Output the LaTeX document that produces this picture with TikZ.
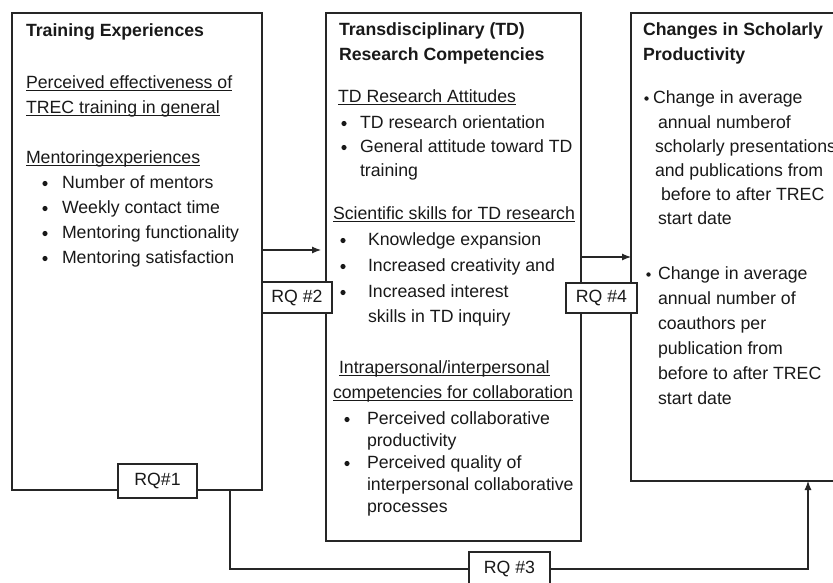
\documentclass[tikz,border=0pt]{standalone}
\usepackage{fontspec}
\setmainfont{Liberation Sans}
\usetikzlibrary{arrows.meta}
\newcommand\ulx[1]{\setbox0\hbox{#1}\rlap{\rule[-3.4pt]{\wd0}{1.2pt}}\box0}
\tikzset{
  ink/.style={draw=black!85, line width=1.1pt},
  boxst/.style={ink, rectangle, inner sep=0pt, outer sep=0pt, anchor=north west},
  rqst/.style={ink, fill=white, rectangle, inner sep=0pt, outer sep=0pt, text=black!90, font=\fontsize{17.7}{21}\selectfont},
  tx/.style={anchor=base west, inner sep=0pt, outer sep=0pt, text=black!90, font=\fontsize{17.7}{21}\selectfont},
  tb/.style={tx, font=\fontsize{17.7}{21}\selectfont\bfseries},
  bul/.style={circle, fill=black!90, draw=none, inner sep=0pt, outer sep=0pt, minimum size=5.2pt},
  bulsm/.style={bul, minimum size=4.4pt},
  arr/.style={ink, -{Latex[length=9pt,width=7pt]}}
}
\begin{document}
\begin{tikzpicture}[x=1pt,y=-1pt]
\clip (0,0) rectangle (833,582);
\fill[white] (0,0) rectangle (833,582);
% boxes
\node[boxst, minimum width=250pt, minimum height=477pt] (L) at (12,13) {};
\node[boxst, minimum width=255pt, minimum height=528pt] (M) at (326,13) {};
\node[boxst, minimum width=300pt, minimum height=468pt] (R) at (631,13) {};
% connector coordinates
\coordinate (q2) at (0,250);
\coordinate (q4) at (0,257);
\coordinate (p1) at (230,569);
\coordinate (p2) at (808,569);
% connectors
\draw[arr, shorten >=5pt] (L.east |- q2) -- (M.west |- q2);
\draw[arr] (M.east |- q4) -- (R.west |- q4);
\draw[arr] (L.south -| p1) -- (p1) -- (p2) -- (R.south -| p2);
% RQ labels
\node[rqst, minimum width=79pt, minimum height=34pt] (rq1) at (157.5,481) {RQ\#1};
\node[rqst, minimum width=70pt, minimum height=31pt] (rq2) at (297,297.5) {RQ \#2};
\node[rqst, minimum width=71pt, minimum height=30pt] (rq4) at (601.5,298) {RQ \#4};
\node[rqst, minimum width=81pt, minimum height=34pt] (rq3) at (509.5,569) {RQ \#3};
% left box text
\node[tb] (l1) at (26,36) {Training Experiences};
\node[tx] (l2) at (26,88) {\ulx{Perceived effectiveness of}};
\node[tx] (l3) at (26,113) {\ulx{TREC training in general}};
\node[tx] (l4) at (26,163) {\ulx{Mentoringexperiences}};
\node[bul] (lb1) at (45,183.5) {};
\node[tx] (l5) at (62,188) {Number of mentors};
\node[bul] (lb2) at (45,208.5) {};
\node[tx] (l6) at (62,213) {Weekly contact time};
\node[bul] (lb3) at (45,233.5) {};
\node[tx] (l7) at (62,238) {Mentoring functionality};
\node[bul] (lb4) at (45,258.5) {};
\node[tx] (l8) at (62,263) {Mentoring satisfaction};
% middle box text
\node[tb] (m1) at (339,35) {Transdisciplinary (TD)};
\node[tb] (m2) at (339,60) {Research Competencies};
\node[tx] (m3) at (338,102) {\ulx{TD Research Attitudes}};
\node[bul] (mb1) at (344,123.5) {};
\node[tx] (m4) at (360,128) {TD research orientation};
\node[bul] (mb2) at (344,147.5) {};
\node[tx] (m5) at (360,152) {General attitude toward TD};
\node[tx] (m6) at (360,176) {training};
\node[tx] (m7) at (333,219) {\ulx{Scientific skills for TD research}};
\node[bul] (mb3) at (343,240.5) {};
\node[tx] (m8) at (368,245) {Knowledge expansion};
\node[bul] (mb4) at (343,266.5) {};
\node[tx] (m9) at (368,271) {Increased creativity and};
\node[bul] (mb5) at (343,292.5) {};
\node[tx] (m10) at (368,297) {Increased interest};
\node[tx] (m11) at (368,322) {skills in TD inquiry};
\node[tx] (m12) at (339,373) {\ulx{Intrapersonal/interpersonal}};
\node[tx] (m13) at (333,398) {\ulx{competencies for collaboration}};
\node[bul] (mb6) at (347,419.5) {};
\node[tx] (m14) at (367,424) {Perceived collaborative};
\node[tx] (m15) at (367,446) {productivity};
\node[bul] (mb7) at (347,463.5) {};
\node[tx] (m16) at (367,468) {Perceived quality of};
\node[tx] (m17) at (367,490) {interpersonal collaborative};
\node[tx] (m18) at (367,512) {processes};
% right box text
\node[tb] (r1) at (643,35) {Changes in Scholarly};
\node[tb] (r2) at (643,60) {Productivity};
\node[bulsm] (rb1) at (646.5,98.5) {};
\node[tx] (r3) at (653,103) {Change in average};
\node[tx] (r4) at (658,128) {annual numberof};
\node[tx] (r5) at (655,152) {scholarly presentations};
\node[tx] (r6) at (655,176) {and publications from};
\node[tx] (r7) at (661,200) {before to after TREC};
\node[tx] (r8) at (658,224) {start date};
\node[bulsm] (rb2) at (648.5,274.5) {};
\node[tx] (r9) at (658,279) {Change in average};
\node[tx] (r10) at (658,304) {annual number of};
\node[tx] (r11) at (658,329) {coauthors per};
\node[tx] (r12) at (658,354) {publication from};
\node[tx] (r13) at (658,379) {before to after TREC};
\node[tx] (r14) at (658,404) {start date};
\end{tikzpicture}
\end{document}
